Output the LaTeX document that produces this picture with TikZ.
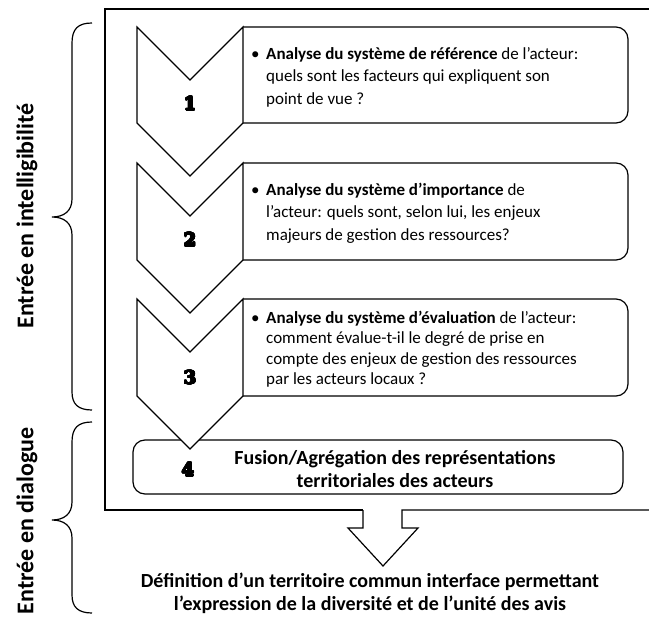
\documentclass[tikz,border=0pt]{standalone}
\usepackage{fontspec}
\usepackage{contour}
\contourlength{0.7pt}
\contournumber{24}
\setmainfont{Carlito}
\newfontfamily\numfont{DejaVu Serif}
\newcommand{\heavynum}[1]{\contour{black}{#1}}
\begin{document}
\begin{tikzpicture}[x=1pt,y=-1pt,
  ln/.style={line width=1.2pt, draw=black, line join=miter},
  chev/.style={ln, fill=white},
  boxtxt/.style={anchor=west, align=left, inner sep=0pt, font=\fontsize{17}{22.5}\selectfont},
  numtxt/.style={inner sep=0pt, font=\numfont\bfseries\fontsize{18}{20}\selectfont},
  boldtxt/.style={align=center, inner sep=0pt, font=\bfseries\fontsize{20}{23}\selectfont},
  sidetxt/.style={rotate=90, inner sep=0pt, font=\bfseries\fontsize{24}{26}\selectfont}]
\useasboundingbox (0,0) rectangle (649,626);
\clip (0,0) rectangle (649,626);
% outer frame with block arrow
\draw[ln] (363,510) -- (105,510) -- (105,9) -- (660,9);
\draw[ln] (660,510) -- (402,510) -- (402,528) -- (418,528) -- (383,566) -- (348,528) -- (363,528) -- (363,510);
% box 4
\draw[ln, fill=white, rounded corners=12] (133,440) rectangle (623,494);
% boxes 1-3
\foreach \t/\s in {27/123, 163/260, 299/396}{
  \draw[ln, fill=white, rounded corners=12] (243,\t) -- (628,\t) -- (628,\s) -- (243,\s);
}
% chevrons
\foreach \t/\s in {27/123, 163/260, 299/396}{
  \draw[chev] (137,\t) -- (190,\t+53) -- (243,\t) -- (243,\s) -- (190,\s+53) -- (137,\s) -- cycle;
}
% numbers
\node[numtxt] (n1) at (190,104) {\heavynum{1}};
\node[numtxt] (n2) at (190,240) {\heavynum{2}};
\node[numtxt] (n3) at (190,378) {\heavynum{3}};
\node[numtxt] (n4) at (188,470) {\heavynum{4}};
% box texts
\node[boxtxt] (t1) at (251,77) {\makebox[15pt][l]{•}\textbf{Analyse du système de référence} de l’acteur:\\\hspace*{15pt}quels sont les facteurs qui expliquent son\\\hspace*{15pt}point de vue ?};
\node[boxtxt] (t2) at (251,213) {\makebox[15pt][l]{•}\textbf{Analyse du système d’importance} de\\\hspace*{15pt}l’acteur: quels sont, selon lui, les enjeux\\\hspace*{15pt}majeurs de gestion des ressources?};
\node[boxtxt, font=\fontsize{17}{20.5}\selectfont] (t3) at (251,349) {\makebox[15pt][l]{•}\textbf{Analyse du système d’évaluation} de l’acteur:\\\hspace*{15pt}comment évalue-t-il le degré de prise en\\\hspace*{15pt}compte des enjeux de gestion des ressources\\\hspace*{15pt}par les acteurs locaux ?};
\node[boldtxt] (t4) at (395,469) {Fusion/Agrégation des représentations\\territoriales des acteurs};
% bottom text
\node[boldtxt] (res) at (370,593) {Définition d’un territoire commun interface permettant\\l’expression de la diversité et de l’unité des avis};
% braces
\draw[ln] (92,23) .. controls (78,23) and (72,29) .. (72,43) -- (72,199) .. controls (72,211) and (64,217) .. (52,217) .. controls (64,217) and (72,223) .. (72,235) -- (72,392) .. controls (72,404) and (78,410) .. (92,410);
\draw[ln] (92,422) .. controls (78,422) and (72,428) .. (72,442) -- (72,502) .. controls (72,514) and (64,520) .. (52,520) .. controls (64,520) and (72,526) .. (72,538) -- (72,595) .. controls (72,607) and (78,613) .. (92,613);
\node[sidetxt] (l1) at (27,216) {Entrée en intelligibilité};
\node[sidetxt] (l2) at (27,521) {Entrée en dialogue};
\end{tikzpicture}
\end{document}
